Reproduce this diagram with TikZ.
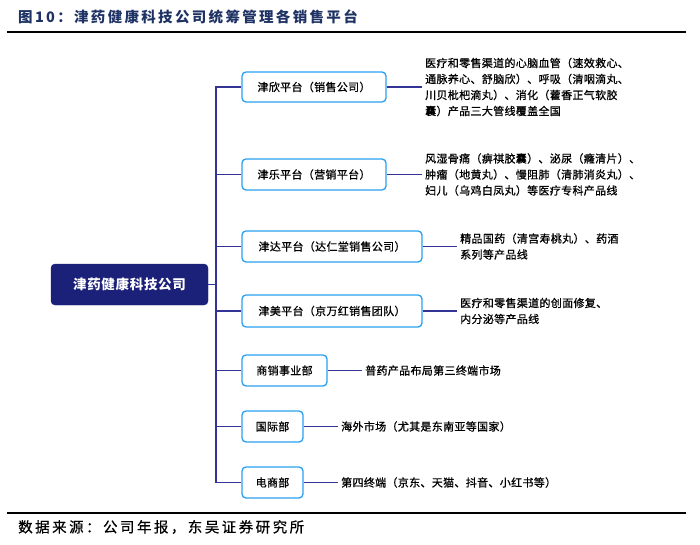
\documentclass[tikz,border=0pt]{standalone}
\usepackage{fontspec}
\setmainfont{Noto Sans CJK SC}
\definecolor{navy}{RGB}{27,33,120}
\definecolor{conn}{RGB}{52,52,150}
\definecolor{boxblue}{RGB}{40,160,240}
\definecolor{titleblue}{RGB}{30,50,100}
\begin{document}
\begin{tikzpicture}[x=1pt,y=-1pt,
  plat/.style={draw=boxblue,line width=1.3pt,rounded corners=4pt,fill=white,
    inner sep=0pt,font=\addfontfeature{LetterSpace=3,FakeBold=0.8}\fontsize{11}{14}\selectfont},
  desc/.style={anchor=west,inner xsep=3pt,inner ysep=0pt,align=left,
    font=\addfontfeature{LetterSpace=3,FakeBold=0.8}\fontsize{11}{16}\selectfont},
  link/.style={draw=conn,line width=1.3pt}]
\useasboundingbox (0,0) rectangle (700,545);
% title and rules
\node[anchor=west,inner sep=0pt,text=titleblue,font=\bfseries\addfontfeature{LetterSpace=16}\fontsize{14.5}{16}\selectfont] (title) at (18,17) {图10：津药健康科技公司统筹管理各销售平台};
\draw[line width=2pt,black] (7,32) -- (686,32);
\draw[line width=2pt,black] (7,513) -- (686,513);
\node[anchor=west,inner sep=0pt,font=\addfontfeature{LetterSpace=17,FakeBold=0.6}\fontsize{14.5}{16}\selectfont] (src) at (18,527) {数据来源：公司年报，东吴证券研究所};
% main node
\node[fill=navy,draw=navy,rounded corners=4pt,minimum width=157pt,minimum height=41pt,inner sep=0pt,
  text=white,font=\bfseries\addfontfeature{LetterSpace=5}\fontsize{13.5}{15}\selectfont] (main) at (129.5,284.5) {津药健康科技公司};
% platform nodes
\node[plat,minimum width=144pt,minimum height=30pt] (p1) at (314,87) {津欣平台（销售公司）};
\node[plat,minimum width=144pt,minimum height=31pt] (p2) at (314,174.5) {津乐平台（营销平台）};
\node[plat,minimum width=180pt,minimum height=31pt] (p3) at (332,246.5) {津达平台（达仁堂销售公司）};
\node[plat,minimum width=180pt,minimum height=32pt] (p4) at (332,311) {津美平台（京万红销售团队）};
\node[plat,minimum width=85pt,minimum height=31pt] (p5) at (284.5,370.5) {商销事业部};
\node[plat,minimum width=61pt,minimum height=31pt] (p6) at (272.5,426.5) {国际部};
\node[plat,minimum width=61pt,minimum height=31pt] (p7) at (272.5,482.5) {电商部};
% descriptions
\node[desc] (d1) at (422,87) {医疗和零售渠道的心脑血管（速效救心、\\通脉养心、舒脑欣）、呼吸（清咽滴丸、\\川贝枇杷滴丸）、消化（藿香正气软胶\\囊）产品三大管线覆盖全国};
\node[desc] (d2) at (422,174.5) {风湿骨痛（痹祺胶囊）、泌尿（癃清片）、\\肿瘤（地黄丸）、慢阻肺（清肺消炎丸）、\\妇儿（乌鸡白凤丸）等医疗专科产品线};
\node[desc] (d3) at (457,246.5) {精品国药（清宫寿桃丸）、药酒\\系列等产品线};
\node[desc] (d4) at (457,311) {医疗和零售渠道的创面修复、\\内分泌等产品线};
\node[desc] (d5) at (362,370.5) {普药产品布局第三终端市场};
\node[desc] (d6) at (338,426.5) {海外市场（尤其是东南亚等国家）};
\node[desc] (d7) at (338,482.5) {第四终端（京东、天猫、抖音、小红书等）};
% trunk
\coordinate (tk) at (216,284.5);
\draw[link] (main.east) -- (tk);
\draw[link] (p1.west) -| (216,87) |- (p7.west);
\foreach \i in {2,...,6} \draw[link] (p\i.west) -- (216,0 |- p\i.west);
\foreach \i in {1,...,7} \draw[link] (p\i.east) -- (d\i.west);
\end{tikzpicture}
\end{document}
